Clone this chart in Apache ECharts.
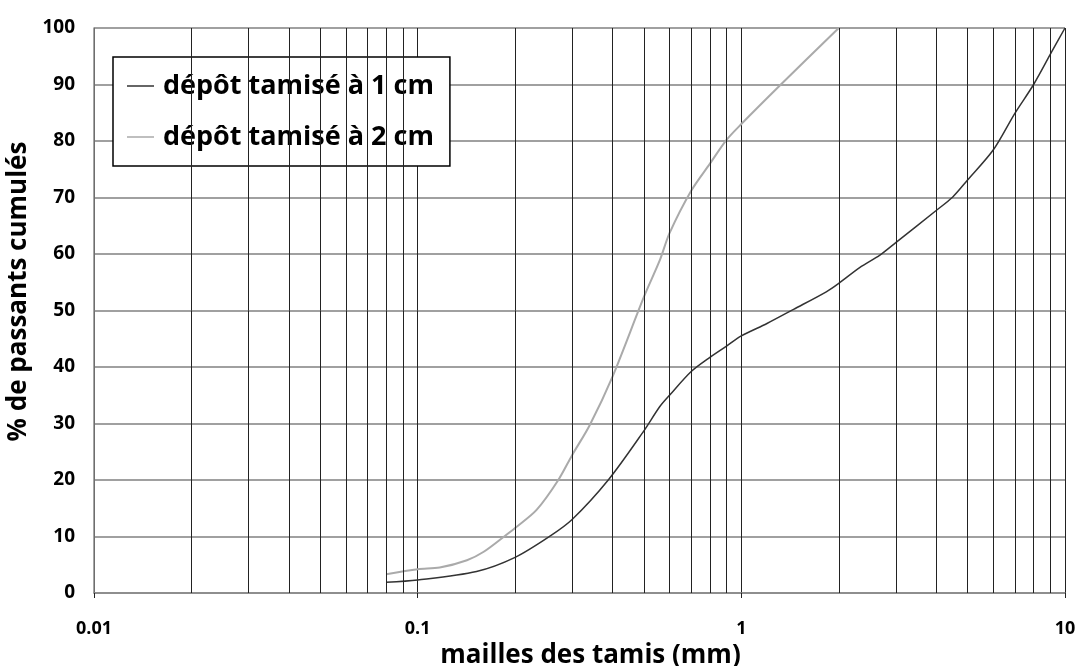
<!DOCTYPE html>
<html>
<head>
<meta charset="utf-8">
<script src="https://cdn.jsdelivr.net/npm/echarts@6/dist/echarts.min.js"></script>
<style>
  html, body { margin: 0; padding: 0; background: #fff; }
  #chart { width: 1079px; height: 666px; }
</style>
</head>
<body>
<div id="chart"></div>
<script>
// courbes granulométriques (mm, % passants)
const sieve1cm = [0.08, 0.1, 0.152, 0.2, 0.257, 0.3, 0.388, 0.5, 0.56, 0.6, 0.7, 0.79, 0.9, 1.0, 1.2, 1.45, 1.83, 2.0, 2.32, 2.68, 3.0, 4.0, 4.5, 5.0, 6.0, 7.0, 8.0, 9.1, 10];
const passing1cm = [1.9, 2.3, 3.8, 6.3, 10.1, 13.0, 20.0, 28.7, 33.0, 35.0, 39.2, 41.5, 43.7, 45.5, 47.7, 50.2, 53.3, 54.8, 57.6, 59.8, 62.0, 67.7, 70.1, 73.1, 78.4, 84.9, 90.0, 95.8, 100];

const sieve2cm = [0.08, 0.1, 0.117, 0.142, 0.16, 0.186, 0.2, 0.233, 0.272, 0.3, 0.34, 0.4, 0.5, 0.56, 0.6, 0.7, 0.8, 0.9, 1.0, 1.32, 2.0];
const passing2cm = [3.3, 4.2, 4.5, 5.8, 7.3, 10.1, 11.5, 14.7, 20.0, 24.4, 29.7, 38.3, 52.4, 58.9, 63.7, 71.2, 76.0, 80.2, 83.0, 89.9, 100];

const seriesNames = ['dépôt tamisé à 1 cm', 'dépôt tamisé à 2 cm'];

// lignes de quadrillage secondaires (2..9 par décade)
const minorGrid = [
  0.02, 0.03, 0.04, 0.05, 0.06, 0.07, 0.08, 0.09,
  0.2, 0.3, 0.4, 0.5, 0.6, 0.7, 0.8, 0.9,
  2, 3, 4, 5, 6, 7, 8, 9
];

const font = '"Open Sans", Lato, sans-serif';

const chart = echarts.init(document.getElementById('chart'));

chart.setOption({
  backgroundColor: '#fff',
  animation: false,
  grid: { left: 94, right: 14, top: 28, bottom: 73, outerBoundsMode: 'none' },
  legend: {
    orient: 'vertical',
    left: 113,
    top: 57,
    data: seriesNames.map(n => ({ name: n, icon: 'rect' })),
    itemWidth: 27,
    itemHeight: 1.5,
    itemGap: 17,
    padding: [12, 16, 12, 14],
    backgroundColor: '#fff',
    borderColor: '#000',
    borderWidth: 1.5,
    textStyle: { fontFamily: font, fontWeight: 'bold', fontSize: 27, color: '#000', lineHeight: 34, padding: [0, 0, 0, 4] }
  },
  xAxis: {
    type: 'log',
    logBase: 10,
    min: 0.01,
    max: 10,
    name: 'mailles des tamis (mm)',
    nameLocation: 'middle',
    nameGap: 45,
    nameTextStyle: { fontFamily: font, fontWeight: 'bold', fontSize: 26, color: '#000', padding: [0, 0, 0, 22] },
    axisLine: { show: true, lineStyle: { color: '#888', width: 1.5 } },
    axisTick: { show: true, length: 5, lineStyle: { color: '#222' } },
    axisLabel: {
      fontFamily: font, fontWeight: 'bold', fontSize: 18, color: '#000', margin: 27,
      formatter: v => String(+v.toPrecision(3))
    },
    splitLine: { show: true, lineStyle: { color: '#222', width: 1 } }
  },
  yAxis: {
    type: 'value',
    min: 0,
    max: 100,
    interval: 10,
    name: '% de passants cumulés',
    nameLocation: 'middle',
    nameGap: 53,
    nameTextStyle: { fontFamily: font, fontWeight: 'bold', fontSize: 26, color: '#000', padding: [0, 0, 0, 38] },
    axisLine: { show: true, lineStyle: { color: '#888', width: 1.5 } },
    axisTick: { show: false },
    axisLabel: { fontFamily: font, fontWeight: 'bold', fontSize: 19, color: '#000', margin: 19 },
    splitLine: { show: true, lineStyle: { color: '#808080', width: 1.5 } }
  },
  series: [
    {
      name: 'grid',
      type: 'line',
      data: [],
      z: 1,
      silent: true,
      markLine: {
        silent: true,
        symbol: 'none',
        label: { show: false },
        lineStyle: { type: 'solid', color: '#222', width: 1 },
        data: minorGrid.map(v => ({ xAxis: v }))
      }
    },
    {
      name: seriesNames[0],
      type: 'line',
      z: 3,
      showSymbol: false,
      smooth: 0.3,
      data: sieve1cm.map((x, i) => [x, passing1cm[i]]),
      lineStyle: { color: '#333', width: 1.5 },
      itemStyle: { color: '#333' }
    },
    {
      name: seriesNames[1],
      type: 'line',
      z: 3,
      showSymbol: false,
      smooth: 0.3,
      data: sieve2cm.map((x, i) => [x, passing2cm[i]]),
      lineStyle: { color: '#aaa', width: 2 },
      itemStyle: { color: '#aaa' }
    }
  ]
});
</script>
</body>
</html>
